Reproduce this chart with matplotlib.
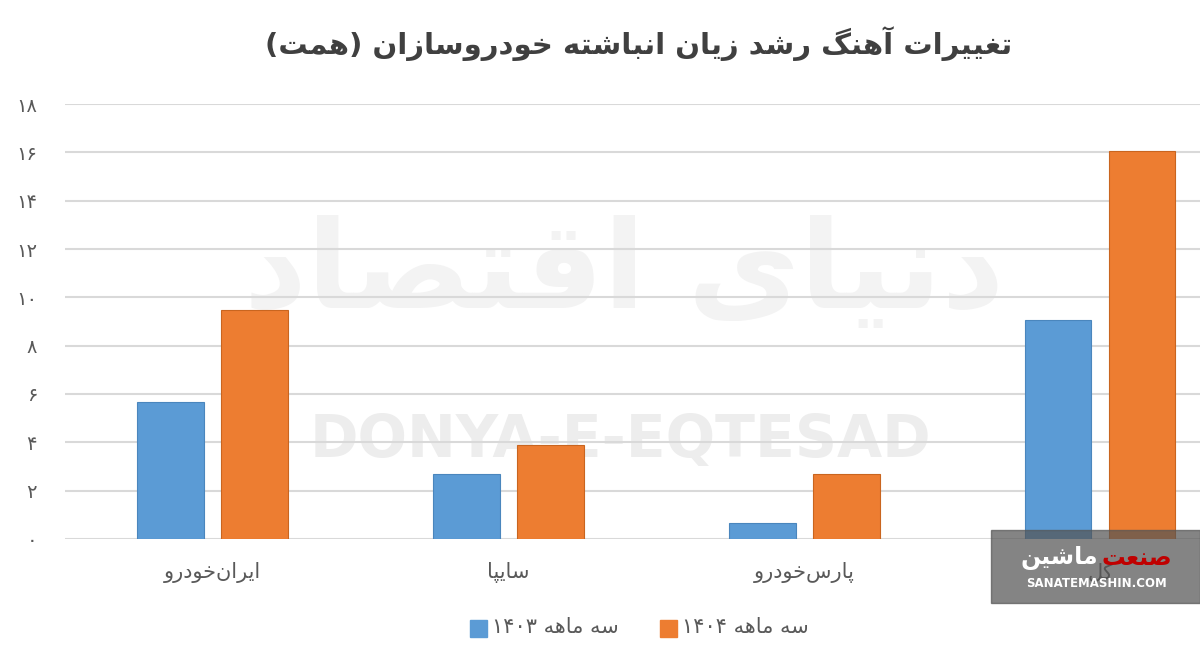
import re
import numpy as np
import matplotlib
matplotlib.use('Agg')
import matplotlib.pyplot as plt
from matplotlib.patches import Rectangle

plt.rcParams['font.family'] = ['DejaVu Sans']

title = 'تغییرات آهنگ رشد زیان انباشته خودروسازان (همت)'
companies = ['ایران\u200cخودرو', 'سایپا', 'پارس\u200cخودرو', 'کل']
q1403 = [5.67, 2.69, 0.66, 9.06]
q1404 = [9.47, 3.89, 2.69, 16.05]
series_names = ['سه ماهه ۱۴۰۳', 'سه ماهه ۱۴۰۴']
yticks = list(range(0, 19, 2))

# minimal persian shaping (matplotlib has no bidi / joining)
F = {
    'ا': 'ﺍﺎ', 'آ': 'ﺁﺂ', 'د': 'ﺩﺪ', 'ذ': 'ﺫﺬ', 'ر': 'ﺭﺮ', 'ز': 'ﺯﺰ', 'و': 'ﻭﻮ',
    'ب': 'ﺏﺐﺑﺒ', 'پ': 'ﭖﭗﭘﭙ', 'ت': 'ﺕﺖﺗﺘ', 'خ': 'ﺥﺦﺧﺨ', 'س': 'ﺱﺲﺳﺴ',
    'ش': 'ﺵﺶﺷﺸ', 'ص': 'ﺹﺺﺻﺼ', 'ع': 'ﻉﻊﻋﻌ', 'غ': 'ﻍﻎﻏﻐ', 'ف': 'ﻑﻒﻓﻔ',
    'ق': 'ﻕﻖﻗﻘ', 'ک': 'ﮎﮏﮐﮑ', 'گ': 'ﮒﮓﮔﮕ', 'ل': 'ﻝﻞﻟﻠ', 'م': 'ﻡﻢﻣﻤ',
    'ن': 'ﻥﻦﻧﻨ', 'ه': 'ﻩﻪﻫﻬ', 'ی': 'ﯼﯽﯾﯿ',
}


def fa(s):
    out = []
    for i, c in enumerate(s):
        if c not in F:
            out.append(c)
            continue
        p = s[i - 1] if i > 0 else ''
        n = s[i + 1] if i + 1 < len(s) else ''
        pj = p in F and len(F[p]) == 4
        nj = len(F[c]) == 4 and n in F
        f = F[c]
        if pj and nj:
            out.append(f[3])
        elif pj:
            out.append(f[1])
        elif nj:
            out.append(f[2])
        else:
            out.append(f[0])
    s = ''.join(out).replace('\u200c', '')
    toks = re.findall(r'[0-9\u06F0-\u06F9]+|.', s)[::-1]
    swap = {'(': ')', ')': '('}
    return ''.join(swap.get(t, t) for t in toks)


def fa_num(v):
    return ''.join(chr(0x06F0 + int(d)) for d in str(v))


fig = plt.figure(figsize=(12, 6.53), dpi=100)
ax = fig.add_axes([0.054, 0.1746, 0.946, 0.6661])

x = np.arange(len(companies))
w = 0.226
ax.bar(x - 0.142, q1403, w, color='#5B9BD5', edgecolor='#4A86BD', linewidth=0.8, zorder=3)
ax.bar(x + 0.142, q1404, w, color='#ED7D31', edgecolor='#C9651F', linewidth=0.8, zorder=3)

ax.set_xlim(-0.5, 3.338)
ax.set_ylim(0, 18)
ax.set_yticks(yticks)
ax.set_yticklabels([fa_num(t) for t in yticks], color='#595959', fontsize=14)
ax.tick_params(axis='y', length=0, pad=20)
ax.set_xticks([])
for s in ax.spines.values():
    s.set_visible(False)
ax.grid(axis='y', color='#D9D9D9', linewidth=1.5, zorder=1)

for xi, name in zip(x, companies):
    ax.text(xi, -1.4, fa(name), ha='center', va='center', fontsize=15, color='#595959', zorder=1)

# watermarks
fig.text(0.517, 0.326, 'DONYA-E-EQTESAD', ha='center', va='center', fontsize=42,
         fontweight='bold', color='#EDEDED', zorder=-1)
fig.text(0.52, 0.58, fa('دنیای اقتصاد'), ha='center', va='center', fontsize=88,
         fontweight='bold', color='#F3F3F3', zorder=-1)
ax.set_zorder(1)
ax.patch.set_alpha(0)

fig.text(0.532, 0.933, fa(title), ha='center', va='center', fontsize=21,
         fontweight='bold', color='#404040')

# legend
fig.patches.append(Rectangle((0.392, 0.024), 0.014, 0.026, transform=fig.transFigure,
                             color='#5B9BD5', figure=fig))
fig.text(0.41, 0.04, fa(series_names[0]), ha='left', va='center', fontsize=15, color='#595959')
fig.patches.append(Rectangle((0.55, 0.024), 0.014, 0.026, transform=fig.transFigure,
                             color='#ED7D31', figure=fig))
fig.text(0.568, 0.04, fa(series_names[1]), ha='left', va='center', fontsize=15, color='#595959')

# logo box
fig.patches.append(Rectangle((0.826, 0.077), 0.174, 0.112, transform=fig.transFigure,
                             color='#555555', alpha=0.72, figure=fig, zorder=5))
fig.text(0.915, 0.145, fa('ماشین'), ha='right', va='center', fontsize=17,
         fontweight='bold', color='white', zorder=6)
fig.text(0.918, 0.145, fa('صنعت'), ha='left', va='center', fontsize=17,
         fontweight='bold', color='#C00000', zorder=6)
fig.text(0.914, 0.107, 'SANATEMASHIN.COM', ha='center', va='center', fontsize=8.5,
         fontweight='bold', color='white', zorder=6)

fig.savefig('out.png', dpi=100)
